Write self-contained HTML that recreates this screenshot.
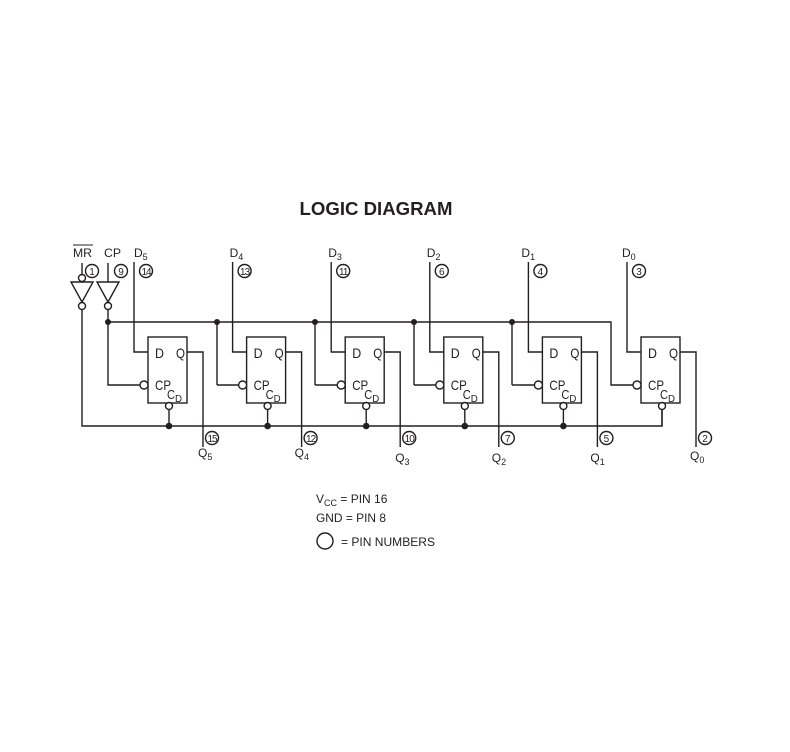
<!DOCTYPE html>
<html><head><style>
html,body{margin:0;padding:0;background:#fff;}
svg{display:block;font-family:"Liberation Sans",Arial,sans-serif;}
text{fill:#231f20;}
</style></head><body>
<svg width="790" height="752" viewBox="0 0 790 752" xmlns="http://www.w3.org/2000/svg">
<defs>
<g id="blk" stroke="#231f20" stroke-width="1.4" fill="none">
  <rect x="0" y="337" width="39" height="66"/>
  <polyline points="-14,262 -14,352 0,352"/>
  <polyline points="39,352 55,352 55,447"/>
  <circle cx="21" cy="406" r="3.5" fill="#fff"/>
  <line x1="21" y1="409.5" x2="21" y2="426"/>
  <circle cx="-4" cy="385" r="4" fill="#fff"/>
  <circle cx="64" cy="438" r="6.5"/>
  <circle cx="-2" cy="271" r="6.5"/>
  <text x="7" y="358" font-size="14" stroke="none" textLength="9" lengthAdjust="spacingAndGlyphs">D</text>
  <text x="28" y="358" font-size="14" stroke="none" textLength="9" lengthAdjust="spacingAndGlyphs">Q</text>
  <text x="7" y="390" font-size="14" stroke="none" textLength="16" lengthAdjust="spacingAndGlyphs">CP</text>
  <text x="19" y="399" font-size="13" stroke="none" textLength="8" lengthAdjust="spacingAndGlyphs">C</text>
  <text x="27" y="402" font-size="10" stroke="none" textLength="7" lengthAdjust="spacingAndGlyphs">D</text>
</g>
</defs>
<text x="376" y="215" font-size="18" font-weight="bold" text-anchor="middle" textLength="153" lengthAdjust="spacingAndGlyphs">LOGIC DIAGRAM</text>

<text x="73" y="257" font-size="12" textLength="19" lengthAdjust="spacingAndGlyphs">MR</text>
<line x1="73" y1="245" x2="93" y2="245" stroke="#231f20" stroke-width="1"/>
<text x="104" y="257" font-size="12" textLength="17" lengthAdjust="spacingAndGlyphs">CP</text>
<g stroke="#231f20" stroke-width="1.4" fill="none">
  <line x1="82" y1="263" x2="82" y2="274"/>
  <circle cx="82" cy="278" r="3.5" fill="#fff"/>
  <polygon points="71,282 93,282 82,302"/>
  <circle cx="82" cy="306" r="3.5" fill="#fff"/>
  <polyline points="82,309.5 82,426 662,426 662,409.5"/>
  <line x1="108" y1="263" x2="108" y2="282"/>
  <polygon points="97,282 119,282 108,302"/>
  <circle cx="108" cy="306" r="3.5" fill="#fff"/>
  <polyline points="108,309.5 108,385 144,385"/>
  <polyline points="108,322 611,322 611,385 637,385"/>
  <line x1="217" y1="322" x2="217" y2="385"/><line x1="217" y1="385" x2="242.6" y2="385"/>
  <line x1="315" y1="322" x2="315" y2="385"/><line x1="315" y1="385" x2="341.2" y2="385"/>
  <line x1="414" y1="322" x2="414" y2="385"/><line x1="414" y1="385" x2="439.8" y2="385"/>
  <line x1="512" y1="322" x2="512" y2="385"/><line x1="512" y1="385" x2="538.4" y2="385"/>
  <circle cx="92" cy="271" r="6.5"/>
  <circle cx="121" cy="271" r="6.5"/>
</g>
<g fill="#231f20">
  <circle cx="108" cy="322" r="3"/><circle cx="217" cy="322" r="3"/><circle cx="315" cy="322" r="3"/><circle cx="414" cy="322" r="3"/><circle cx="512" cy="322" r="3"/>
  <circle cx="169" cy="426" r="3.3"/><circle cx="267.6" cy="426" r="3.3"/><circle cx="366.2" cy="426" r="3.3"/><circle cx="464.8" cy="426" r="3.3"/><circle cx="563.4" cy="426" r="3.3"/>
</g>
<text x="92" y="275" font-size="10" text-anchor="middle">1</text>
<text x="121" y="275" font-size="10" text-anchor="middle">9</text>

<g transform="translate(148,0)"><use href="#blk"/>
 <text x="-2" y="275" font-size="10" text-anchor="middle" letter-spacing="-1">14</text>
 <text x="64" y="442" font-size="10" text-anchor="middle" letter-spacing="-1">15</text>
 <text x="-14" y="257" font-size="12">D<tspan font-size="9" dy="3">5</tspan></text>
 <text x="50" y="457" font-size="12">Q<tspan font-size="9" dy="3">5</tspan></text></g>
<g transform="translate(246.6,0)"><use href="#blk"/>
 <text x="-2" y="275" font-size="10" text-anchor="middle" letter-spacing="-1">13</text>
 <text x="64" y="442" font-size="10" text-anchor="middle" letter-spacing="-1">12</text>
 <text x="-17" y="257" font-size="12">D<tspan font-size="9" dy="3">4</tspan></text>
 <text x="48" y="457" font-size="12">Q<tspan font-size="9" dy="3">4</tspan></text></g>
<g transform="translate(345.2,0)"><use href="#blk"/>
 <text x="-2" y="275" font-size="10" text-anchor="middle" letter-spacing="-1">11</text>
 <text x="64" y="442" font-size="10" text-anchor="middle" letter-spacing="-1">10</text>
 <text x="-17" y="257" font-size="12">D<tspan font-size="9" dy="3">3</tspan></text>
 <text x="50" y="462" font-size="12">Q<tspan font-size="9" dy="3">3</tspan></text></g>
<g transform="translate(443.8,0)"><use href="#blk"/>
 <text x="-2" y="275" font-size="10" text-anchor="middle">6</text>
 <text x="64" y="442" font-size="10" text-anchor="middle">7</text>
 <text x="-17" y="257" font-size="12">D<tspan font-size="9" dy="3">2</tspan></text>
 <text x="48" y="462" font-size="12">Q<tspan font-size="9" dy="3">2</tspan></text></g>
<g transform="translate(542.4,0)"><use href="#blk"/>
 <text x="-2" y="275" font-size="10" text-anchor="middle">4</text>
 <text x="64" y="442" font-size="10" text-anchor="middle">5</text>
 <text x="-21" y="257" font-size="12">D<tspan font-size="9" dy="3">1</tspan></text>
 <text x="48" y="462" font-size="12">Q<tspan font-size="9" dy="3">1</tspan></text></g>
<g transform="translate(641,0)"><use href="#blk"/>
 <text x="-2" y="275" font-size="10" text-anchor="middle">3</text>
 <text x="64" y="442" font-size="10" text-anchor="middle">2</text>
 <text x="-19" y="257" font-size="12">D<tspan font-size="9" dy="3">0</tspan></text>
 <text x="49" y="460" font-size="12">Q<tspan font-size="9" dy="3">0</tspan></text></g>

<text x="316" y="503" font-size="12">V<tspan font-size="9" dy="3">CC</tspan><tspan dy="-3"> = PIN 16</tspan></text>
<text x="316" y="522" font-size="12" textLength="70" lengthAdjust="spacingAndGlyphs">GND = PIN 8</text>
<circle cx="325" cy="541" r="8" stroke="#231f20" stroke-width="1.4" fill="none"/>
<text x="341" y="546" font-size="12" textLength="94" lengthAdjust="spacingAndGlyphs">= PIN NUMBERS</text>
</svg>
</body></html>
